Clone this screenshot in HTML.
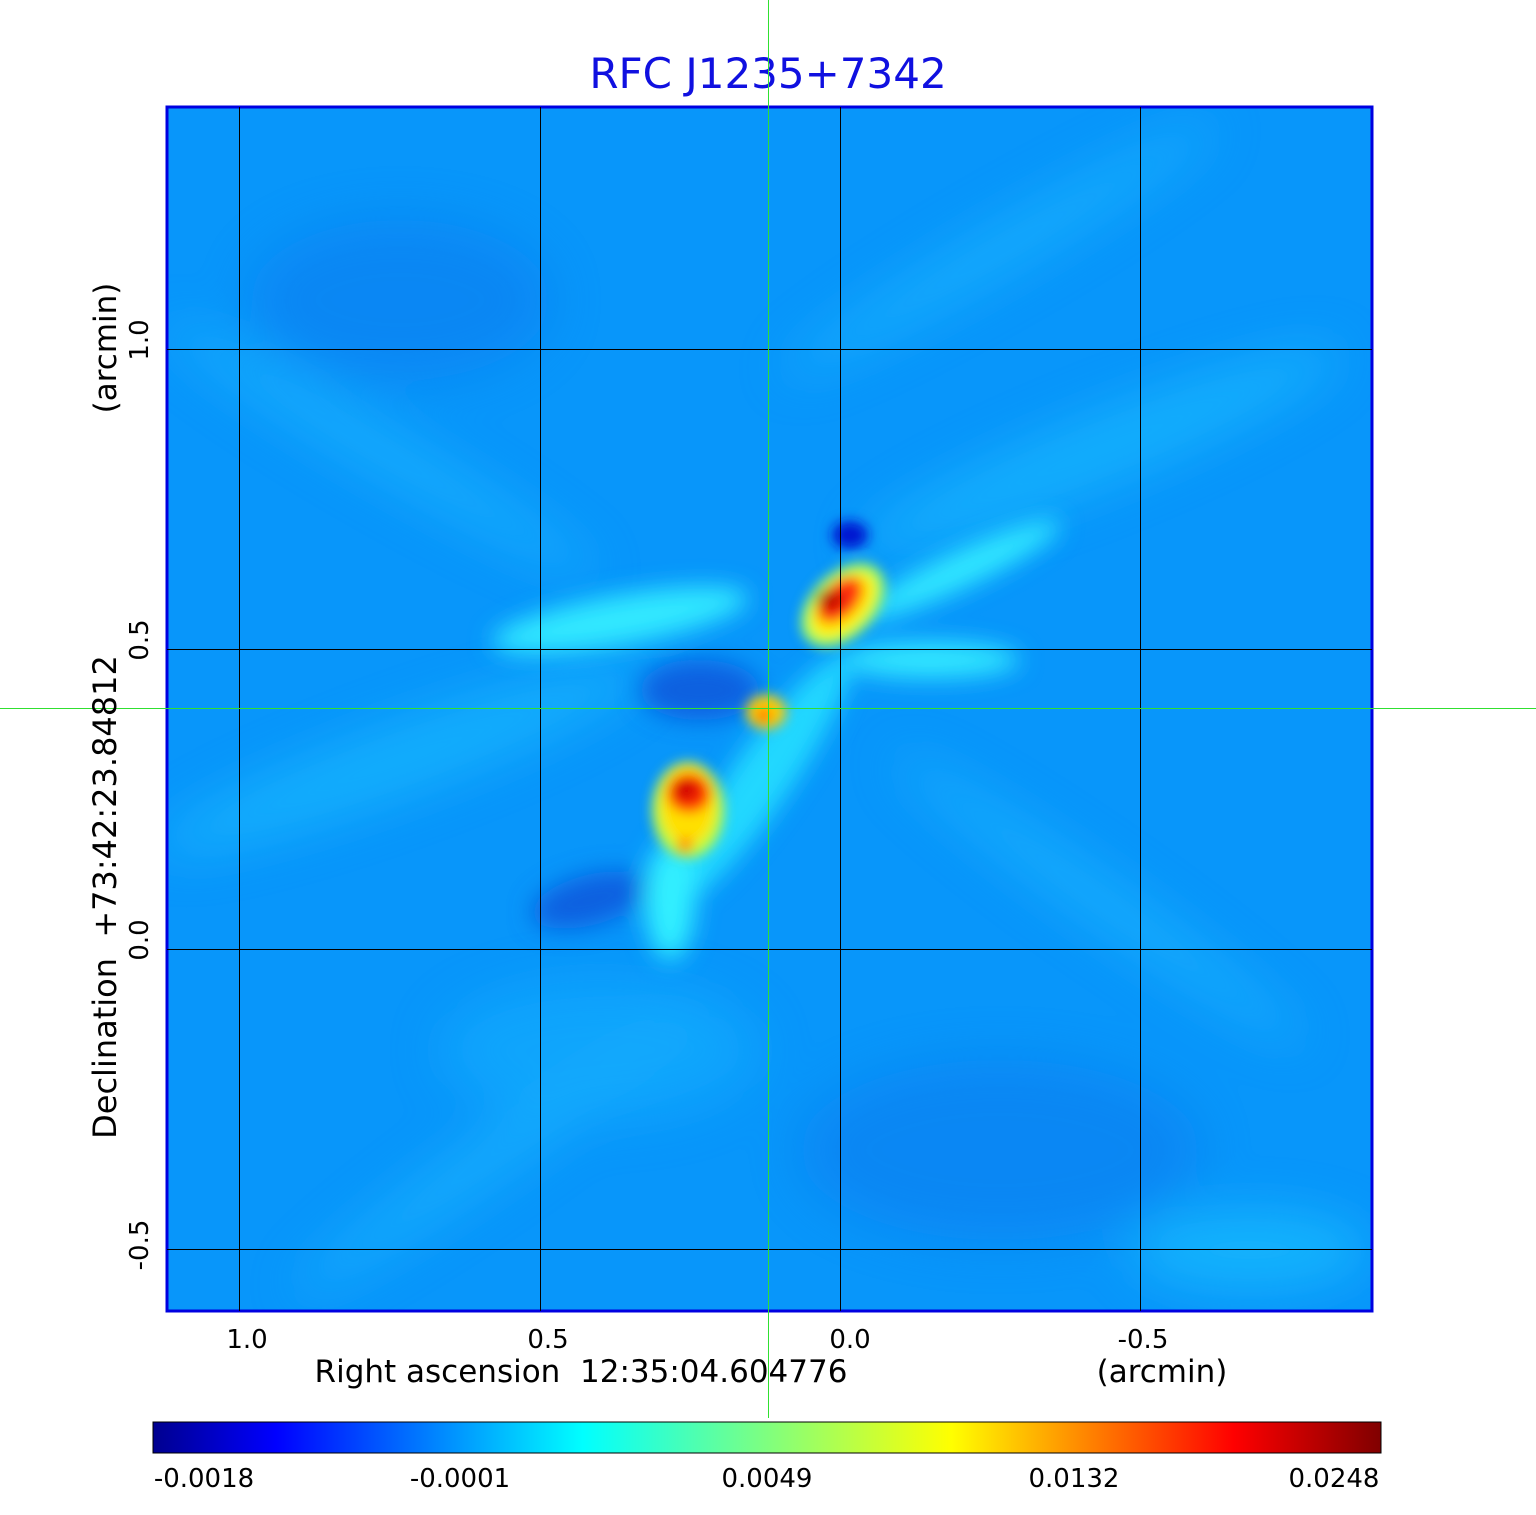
<!DOCTYPE html>
<html><head><style>
body{margin:0;background:#fff;width:1536px;height:1511px;overflow:hidden;font-family:"DejaVu Sans","Liberation Sans",sans-serif;}
</style></head><body>
<svg width="1536" height="1511" viewBox="0 0 1536 1511" xmlns="http://www.w3.org/2000/svg">
<defs>
<filter id="b1" x="-50%" y="-50%" width="200%" height="200%"><feGaussianBlur stdDeviation="12"/></filter>
<filter id="b2" x="-50%" y="-50%" width="200%" height="200%"><feGaussianBlur stdDeviation="6"/></filter>
<filter id="b3" x="-50%" y="-50%" width="200%" height="200%"><feGaussianBlur stdDeviation="25"/></filter>
<linearGradient id="jet" x1="0" x2="1" y1="0" y2="0">
<stop offset="0" stop-color="#00008f"/><stop offset="0.1" stop-color="#0000ff"/>
<stop offset="0.35" stop-color="#00ffff"/><stop offset="0.5" stop-color="#7fff7f"/>
<stop offset="0.65" stop-color="#ffff00"/><stop offset="0.88" stop-color="#ff0000"/>
<stop offset="1" stop-color="#800000"/></linearGradient>
<clipPath id="c"><rect x="167" y="107" width="1205" height="1204"/></clipPath>
</defs>
<text x="768" y="88" text-anchor="middle" font-size="42" fill="#1010e0">RFC J1235+7342</text>
<g clip-path="url(#c)">
<rect x="167" y="107" width="1205" height="1204" fill="#0896fa"/>
<g filter="url(#b3)" opacity="0.5">
<ellipse cx="400" cy="300" rx="150" ry="80" fill="#0a78ee"/>
<ellipse cx="1000" cy="1150" rx="200" ry="90" fill="#0a78ee"/>
<ellipse cx="600" cy="1050" rx="160" ry="70" fill="#18b4ff"/>
<ellipse cx="1100" cy="450" rx="260" ry="35" fill="#20c8ff" transform="rotate(-22 1100 450)"/>
<ellipse cx="400" cy="760" rx="260" ry="35" fill="#20c8ff" transform="rotate(-20 400 760)"/>
<ellipse cx="1250" cy="1250" rx="120" ry="40" fill="#20d0ff"/>
<ellipse cx="1100" cy="900" rx="250" ry="25" fill="#20c0ff" transform="rotate(35 1100 900)"/>
<ellipse cx="500" cy="1150" rx="250" ry="25" fill="#20c0ff" transform="rotate(-35 500 1150)"/>
<ellipse cx="380" cy="450" rx="250" ry="25" fill="#20c0ff" transform="rotate(30 380 450)"/>
<ellipse cx="1000" cy="250" rx="250" ry="25" fill="#20c0ff" transform="rotate(-30 1000 250)"/>
</g>
<g filter="url(#b1)">
<ellipse cx="700" cy="690" rx="60" ry="30" fill="#0a60e0"/>
<ellipse cx="590" cy="900" rx="60" ry="25" fill="#0a60e0" transform="rotate(-15 590 900)"/>
<ellipse cx="620" cy="620" rx="130" ry="25" fill="#30e8ff" transform="rotate(-10 620 620)"/>
<ellipse cx="960" cy="570" rx="110" ry="18" fill="#30e8ff" transform="rotate(-25 960 570)"/>
<ellipse cx="930" cy="660" rx="90" ry="18" fill="#30e8ff"/>
<ellipse cx="760" cy="780" rx="150" ry="30" fill="#20d8ff" transform="rotate(-55 760 780)"/>
<ellipse cx="670" cy="900" rx="25" ry="60" fill="#30f0ff"/>
</g>
<g filter="url(#b2)">
<ellipse cx="850" cy="535" rx="18" ry="14" fill="#0018d0"/>
<ellipse cx="843" cy="605" rx="50" ry="32" fill="#a0ff60" transform="rotate(-45 843 605)"/>
<ellipse cx="843" cy="605" rx="40" ry="24" fill="#ffee00" transform="rotate(-45 843 605)"/>
<ellipse cx="840" cy="600" rx="28" ry="17" fill="#ff3010" transform="rotate(-45 840 600)"/>
<ellipse cx="830" cy="600" rx="13" ry="10" fill="#c00000"/>
<ellipse cx="766" cy="712" rx="20" ry="17" fill="#ffd000"/>
<ellipse cx="764" cy="715" rx="7" ry="6" fill="#ff2000"/>
<ellipse cx="688" cy="810" rx="36" ry="48" fill="#c0ff40"/>
<ellipse cx="688" cy="805" rx="28" ry="40" fill="#ffe000"/>
<ellipse cx="689" cy="793" rx="22" ry="20" fill="#ff3000"/>
<ellipse cx="686" cy="790" rx="12" ry="10" fill="#d00000"/>
<ellipse cx="685" cy="845" rx="8" ry="8" fill="#ff9000"/>
</g>
</g>
<rect x="167" y="107" width="1205" height="1204" fill="none" stroke="#0000e0" stroke-width="3"/>
<g stroke="#000" stroke-width="1">
<line x1="239.5" y1="107" x2="239.5" y2="1311"/><line x1="540.5" y1="107" x2="540.5" y2="1311"/>
<line x1="840.5" y1="107" x2="840.5" y2="1311"/><line x1="1140.5" y1="107" x2="1140.5" y2="1311"/>
<line x1="167" y1="349.5" x2="1372" y2="349.5"/><line x1="167" y1="649.5" x2="1372" y2="649.5"/>
<line x1="167" y1="949.5" x2="1372" y2="949.5"/><line x1="167" y1="1249.5" x2="1372" y2="1249.5"/>
</g>
<line x1="768.5" y1="0" x2="768.5" y2="1418" stroke="#30e030" stroke-width="1"/>
<line x1="0" y1="708.5" x2="1536" y2="708.5" stroke="#30e030" stroke-width="1"/>
<g font-size="26" fill="#000" text-anchor="middle" xml:space="preserve">
<text x="247" y="1348">1.0</text><text x="548" y="1348">0.5</text>
<text x="850" y="1348">0.0</text><text x="1143" y="1348">-0.5</text>
<text x="581" y="1382" font-size="31" xml:space="preserve">Right ascension  12:35:04.604776</text>
<text x="1162" y="1382" font-size="31">(arcmin)</text>
<text transform="translate(148 340) rotate(-90)">1.0</text>
<text transform="translate(148 640) rotate(-90)">0.5</text>
<text transform="translate(148 940) rotate(-90)">0.0</text>
<text transform="translate(148 1245) rotate(-90)">-0.5</text>
<text transform="translate(116 897) rotate(-90)" font-size="32" xml:space="preserve">Declination  +73:42:23.84812</text>
<text transform="translate(116 348) rotate(-90)" font-size="31">(arcmin)</text>
</g>
<rect x="153" y="1422" width="1228" height="31" fill="url(#jet)" stroke="#000" stroke-width="1"/>
<g font-size="26" fill="#000" text-anchor="middle">
<text x="204" y="1487">-0.0018</text><text x="460" y="1487">-0.0001</text>
<text x="767" y="1487">0.0049</text><text x="1074" y="1487">0.0132</text>
<text x="1334" y="1487">0.0248</text>
</g>
</svg>
</body></html>
